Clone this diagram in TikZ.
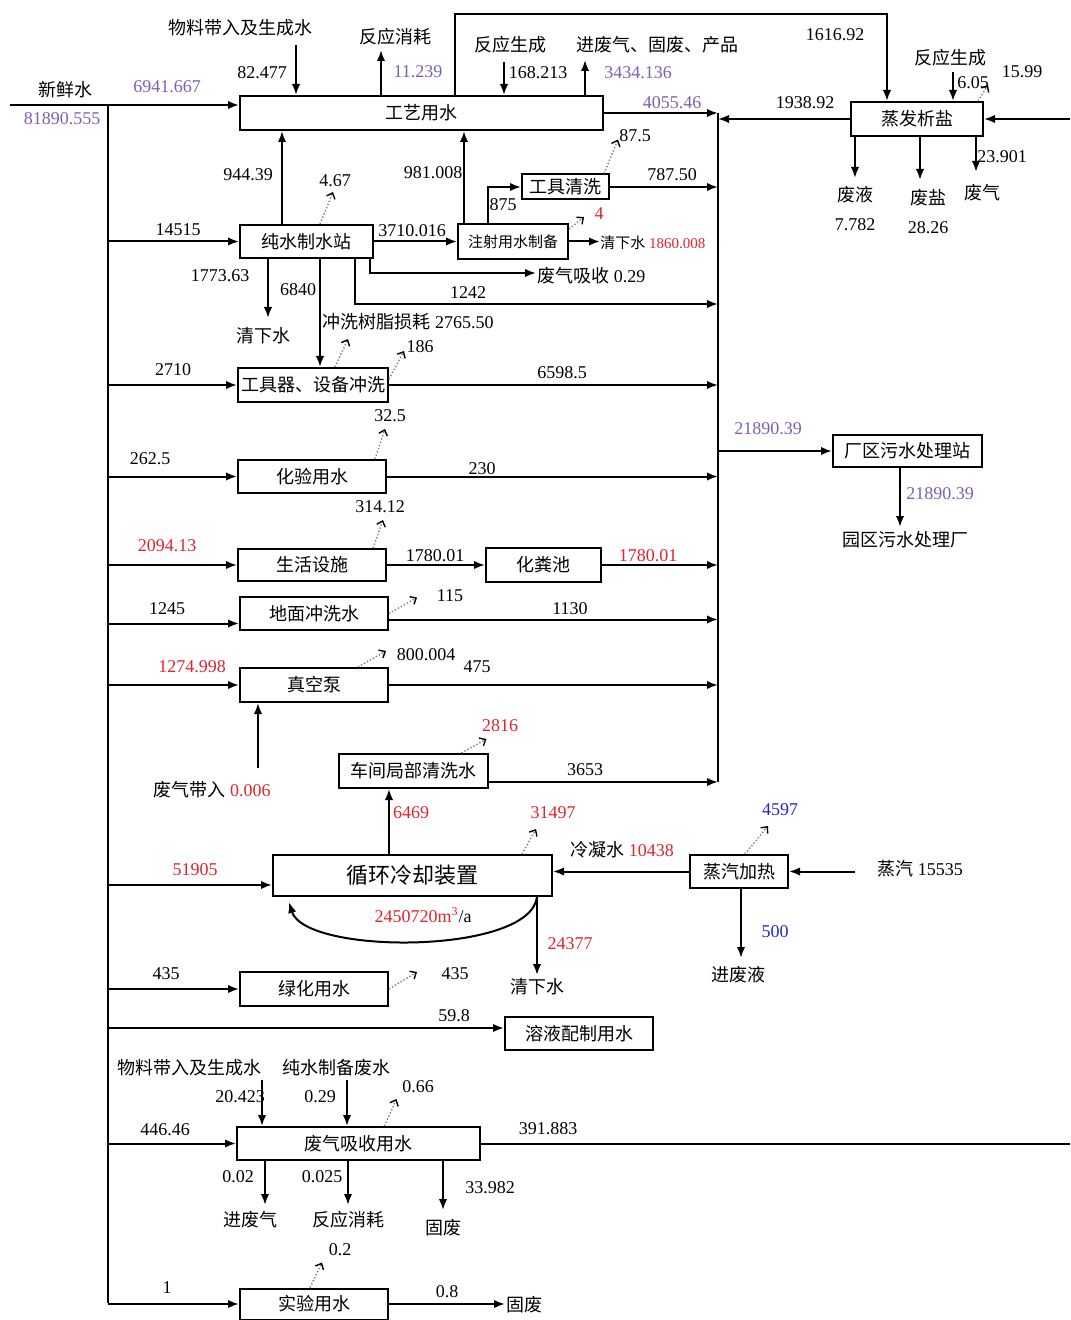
\documentclass[tikz,border=0pt]{standalone}
\usepackage{fontspec}
\setmainfont{Liberation Serif}
\newfontfamily\cjk{Noto Sans CJK SC}
\usepackage{tikz}
\usetikzlibrary{arrows.meta, calc, positioning}
\usepackage{xcolor}
\definecolor{numpurple}{RGB}{125,95,175}
\definecolor{numred}{RGB}{225,35,45}
\definecolor{numblue}{RGB}{35,35,215}
\newcommand{\zh}[1]{{\cjk #1}}

\tikzset{
    box/.style={draw, line width=1pt, inner sep=0pt, font=\cjk\fontsize{9}{10}\selectfont},
    flow/.style={line width=1pt, -{Latex[length=5.5pt, width=4.2pt]}},
    pipe/.style={line width=1pt},
    loss/.style={densely dotted, gray, line width=0.7pt, -{Straight Barb[length=2.5pt, width=4.5pt, black]}},
    lbl/.style={inner sep=0.5pt, font=\fontsize{9}{10}\selectfont},
    zhl/.style={inner sep=0.5pt, font=\cjk\fontsize{9}{10}\selectfont},
}

\begin{document}
\begin{tikzpicture}[x=0.5pt, y=-0.5pt]
    \useasboundingbox (0,0) rectangle (1070,1320);

    % 总管与汇水线
    \coordinate (src) at (10,105);
    \coordinate (main) at (108,105);
    \coordinate (mainb) at (108,1303);
    \coordinate (col) at (718,113);
    \coordinate (colb) at (718,782);
    \draw[pipe] (main) -- (mainb);
    \draw[pipe] (col) -- (colb);

    % 工艺用水
    \node[box, minimum width=181.5pt, minimum height=17pt] (gy) at (421.5,113) {工艺用水};
    \draw[flow] (src) -- (src -| gy.west);
    \node[zhl] (xxs) at (65,90) {新鲜水};
    \node[lbl, numpurple] (xxsv) at (62,119) {81890.555};
    \node[lbl, numpurple] (gyin) at (167,87) {6941.667};

    \coordinate (wl1) at (296,45);
    \draw[flow] (wl1) -- (wl1 |- gy.north);
    \node[zhl] (wl1t) at (240,28) {物料带入及生成水};
    \node[lbl] (wl1v) at (262,73) {82.477};
    \coordinate (fy1) at (381,50);
    \draw[flow] (fy1 |- gy.north) -- (fy1);
    \node[zhl] (fy1t) at (395,37) {反应消耗};
    \node[lbl, numpurple] (fy1v) at (418,72) {11.239};
    \coordinate (fs1) at (504,62);
    \draw[flow] (fs1) -- (fs1 |- gy.north);
    \node[zhl] (fs1t) at (510,45) {反应生成};
    \node[lbl] (fs1v) at (538,73) {168.213};
    \coordinate (jf1) at (585,60);
    \draw[flow] (jf1 |- gy.north) -- (jf1);
    \node[zhl] (jf1t) at (657,45) {进废气、固废、产品};
    \node[lbl, numpurple] (jf1v) at (638,73) {3434.136};

    \draw[flow] (gy.east) -- (col);
    \node[lbl, numpurple] (gyout) at (672,103) {4055.46};

    % 蒸发析盐
    \node[box, minimum width=66pt, minimum height=17pt] (zf) at (917,119) {蒸发析盐};
    \coordinate (lp1) at (455,14);
    \coordinate (lp2) at (887,14);
    \draw[flow] (lp1 |- gy.north) -- (lp1) -- (lp2) -- (lp2 |- zf.north);
    \node[lbl] (lpv) at (835,35) {1616.92};
    \draw[flow] (zf.west) -- (zf.west -| col);
    \node[lbl] (zfout) at (805,103) {1938.92};
    \coordinate (zfin) at (1070,119);
    \draw[flow] (zfin) -- (zf.east);
    \coordinate (fs2) at (953,72);
    \draw[flow] (fs2) -- (fs2 |- zf.north);
    \node[zhl] (fs2t) at (950,58) {反应生成};
    \node[lbl] (fs2v) at (973,83) {6.05};
    \draw[loss] ([xshift=-3pt]zf.north east) -- ++(10,-16);
    \node[lbl] (zfloss) at (1022,72) {15.99};
    \coordinate (fy2) at (855,178);
    \coordinate (fy3) at (920,180);
    \coordinate (fy4) at (976,172);
    \draw[flow] (fy2 |- zf.south) -- (fy2);
    \draw[flow] (fy3 |- zf.south) -- (fy3);
    \draw[flow] (fy4 |- zf.south) -- (fy4);
    \node[zhl] (fyt) at (855,195) {废液};
    \node[lbl] (fyv) at (855,225) {7.782};
    \node[zhl] (fst) at (928,198) {废盐};
    \node[lbl] (fsv) at (928,228) {28.26};
    \node[zhl] (fqt) at (982,193) {废气};
    \node[lbl] (fqv) at (1002,157) {23.901};

    % 纯水制水站
    \node[box, minimum width=66.5pt, minimum height=16.5pt] (cs) at (306.5,241.5) {纯水制水站};
    \draw[flow] (main |- cs.west) -- (cs.west);
    \node[lbl] (csin) at (178,230) {14515};
    \coordinate (c282) at (282,0);
    \draw[flow] (c282 |- cs.north) -- (c282 |- gy.south);
    \node[lbl] (csup) at (248,175) {944.39};
    \draw[loss] ([xshift=6.75pt]cs.north) -- ++(13,-32);
    \node[lbl] (csloss) at (335,181) {4.67};
    \coordinate (qx1) at (268,318);
    \draw[flow] (qx1 |- cs.south) -- (qx1);
    \node[lbl] (qx1v) at (220,276) {1773.63};
    \node[zhl] (qx1t) at (263,336) {清下水};
    \coordinate (fq1) at (536,273);
    \coordinate (c370) at (370,273);
    \draw[flow] (c370 |- cs.south) -- (c370) -- (fq1);
    \node[lbl, anchor=west] (fq1t) at (536,276) {\zh{废气吸收} 0.29};
    \coordinate (c355) at (355,304);
    \draw[flow] (c355 |- cs.south) -- (c355) -- (c355 -| col);
    \node[lbl] (c355v) at (468,293) {1242};

    % 注射用水制备
    \node[box, font=\cjk\fontsize{7.5}{8}\selectfont, minimum width=55pt, minimum height=17.5pt] (zs) at (513,241.5) {注射用水制备};
    \draw[flow] (cs.east) -- (zs.west);
    \node[lbl] (csout) at (412,231) {3710.016};
    \coordinate (c464) at (464,0);
    \draw[flow] (c464 |- zs.north) -- (c464 |- gy.south);
    \node[lbl] (zsup) at (433,173) {981.008};
    \draw[loss] ([yshift=-3pt]zs.north east) -- ++(15,-12);
    \node[lbl, numred] (zsloss) at (599,214) {4};
    \coordinate (qx2) at (600,241.5);
    \draw[flow] (zs.east) -- (qx2);
    \node[lbl, anchor=west, font=\fontsize{7.5}{8}\selectfont] (qx2t) at (599,243) {\zh{清下水} \textcolor{numred}{1860.008}};

    % 工具清洗
    \node[box, minimum width=43.5pt, minimum height=12.5pt] (gjx) at (565.5,187) {工具清洗};
    \coordinate (c488) at (488,0);
    \draw[flow] (c488 |- zs.north) |- (gjx.west);
    \node[lbl] (gjxin) at (503,205) {875};
    \draw[flow] (gjx.east) -- (gjx.east -| col);
    \node[lbl] (gjxout) at (672,175) {787.50};
    \draw[loss] ([xshift=-3pt]gjx.north east) -- ++(14,-34);
    \node[lbl] (gjxloss) at (635,136) {87.5};

    % 工具器、设备冲洗
    \node[box, minimum width=75pt, minimum height=17pt] (gjq) at (313,385) {工具器、设备冲洗};
    \draw[flow] (main |- gjq.west) -- (gjq.west);
    \node[lbl] (gjqin) at (173,370) {2710};
    \coordinate (c320) at (320,0);
    \draw[flow] (c320 |- cs.south) -- (c320 |- gjq.north);
    \node[lbl] (c320v) at (298,290) {6840};
    \draw[flow] (gjq.east) -- (gjq.east -| col);
    \node[lbl] (gjqout) at (562,373) {6598.5};
    \draw[loss] ([xshift=11pt]gjq.north) -- ++(13,-28);
    \node[lbl] (gjql1) at (408,322) {\zh{冲洗树脂损耗} 2765.50};
    \draw[loss] ([yshift=-6pt]gjq.north east) -- ++(15,-28);
    \node[lbl] (gjql2) at (420,347) {186};

    % 化验用水
    \node[box, minimum width=74pt, minimum height=16.5pt] (hy) at (312,476.5) {化验用水};
    \draw[flow] (main |- hy.west) -- (hy.west);
    \node[lbl] (hyin) at (150,459) {262.5};
    \draw[flow] (hy.east) -- (hy.east -| col);
    \node[lbl] (hyout) at (482,469) {230};
    \draw[loss] ([xshift=-6pt]hy.north east) -- ++(10,-30);
    \node[lbl] (hyloss) at (390,416) {32.5};

    % 生活设施、化粪池
    \node[box, minimum width=74pt, minimum height=16pt] (sh) at (312,565) {生活设施};
    \draw[flow] (main |- sh.west) -- (sh.west);
    \node[lbl, numred] (shin) at (167,546) {2094.13};
    \draw[loss] ([xshift=-7pt]sh.north east) -- ++(10,-28);
    \node[lbl] (shloss) at (380,507) {314.12};
    \node[box, minimum width=57.5pt, minimum height=17pt] (hf) at (543.5,565) {化粪池};
    \draw[flow] (sh.east) -- (hf.west);
    \node[lbl] (shout) at (435,556) {1780.01};
    \draw[flow] (hf.east) -- (hf.east -| col);
    \node[lbl, numred] (hfout) at (648,556) {1780.01};

    % 地面冲洗水
    \node[box, minimum width=74pt, minimum height=16.5pt] (dm) at (314,613.5) {地面冲洗水};
    \coordinate (dmin) at ([yshift=-5pt]dm.west);
    \coordinate (dmout) at ([yshift=-3pt]dm.east);
    \draw[flow] (main |- dmin) -- (dmin);
    \node[lbl] (dminv) at (167,609) {1245};
    \draw[flow] (dmout) -- (dmout -| col);
    \node[lbl] (dmoutv) at (570,609) {1130};
    \draw[loss] (dm.east) -- ++(28,-16);
    \node[lbl] (dmloss) at (450,596) {115};

    % 真空泵
    \node[box, minimum width=74pt, minimum height=17pt] (zk) at (314,685) {真空泵};
    \draw[flow] (main |- zk.west) -- (zk.west);
    \node[lbl, numred] (zkin) at (192,667) {1274.998};
    \draw[flow] (zk.east) -- (zk.east -| col);
    \node[lbl] (zkout) at (477,667) {475};
    \draw[loss] ([xshift=-15.5pt]zk.north east) -- ++(28,-16);
    \node[lbl] (zkloss) at (426,655) {800.004};
    \coordinate (fqdr) at (258,768);
    \draw[flow] (fqdr) -- (fqdr |- zk.south);
    \node[lbl] (fqdrt) at (212,790) {\zh{废气带入} \textcolor{numred}{0.006}};

    % 车间局部清洗水
    \node[box, minimum width=74.5pt, minimum height=17pt] (cj) at (413.5,771) {车间局部清洗水};
    \coordinate (cjout) at ([yshift=-5.5pt]cj.east);
    \draw[flow] (cjout) -- (colb);
    \node[lbl] (cjoutv) at (585,770) {3653};
    \draw[loss] ([xshift=24pt]cj.north) -- ++(25,-14);
    \node[lbl, numred] (cjloss) at (500,726) {2816};

    % 循环冷却装置
    \node[box, font=\cjk\fontsize{11}{12}\selectfont, minimum width=139.5pt, minimum height=20.5pt] (xh) at (412.5,875.5) {循环冷却装置};
    \coordinate (xhin) at ([yshift=-4.75pt]xh.west);
    \draw[flow] (main |- xhin) -- (xhin);
    \node[lbl, numred] (xhinv) at (195,870) {51905};
    \coordinate (c389) at (389,0);
    \draw[flow] (c389 |- xh.north) -- (c389 |- cj.south);
    \node[lbl, numred] (c389v) at (411,813) {6469};
    \draw[loss] ([xshift=-15.5pt]xh.north east) -- ++(14,-25);
    \node[lbl, numred] (xhloss) at (553,813) {31497};
    \coordinate (qx3) at (537,975);
    \draw[flow] (qx3 |- xh.south) .. controls (530,955) and (305,955) .. ([xshift=8.5pt, yshift=-2.5pt]xh.south west);
    \node[lbl, numred] (xhcyc) at (423,915) {2450720m\textsuperscript{3}\textcolor{black}{/a}};
    \draw[flow] (qx3 |- xh.south) -- (qx3);
    \node[lbl, numred] (qx3v) at (570,944) {24377};
    \node[zhl] (qx3t) at (537,987) {清下水};

    % 蒸汽加热
    \node[box, minimum width=49pt, minimum height=16.5pt] (zq) at (739,871.5) {蒸汽加热};
    \draw[flow] (zq.west) -- (zq.west -| xh.east);
    \node[lbl] (zqout) at (622,850) {\zh{冷凝水} \textcolor{numred}{10438}};
    \coordinate (zqin) at (855,871.5);
    \draw[flow] (zqin) -- (zq.east);
    \node[lbl] (zqint) at (920,869) {\zh{蒸汽} 15535};
    \coordinate (c741) at (741,958);
    \draw[flow] (c741 |- zq.south) -- (c741);
    \node[lbl, numblue] (c741v) at (775,932) {500};
    \node[zhl] (c741t) at (738,975) {进废液};
    \draw[loss] ([xshift=3pt]zq.north) -- ++(23,-28);
    \node[lbl, numblue] (zqloss) at (780,810) {4597};

    % 绿化用水
    \node[box, minimum width=74pt, minimum height=17pt] (lh) at (314,989) {绿化用水};
    \draw[flow] (main |- lh.west) -- (lh.west);
    \node[lbl] (lhin) at (166,974) {435};
    \draw[loss] (lh.east) -- ++(28,-17);
    \node[lbl] (lhloss) at (455,974) {435};

    % 溶液配制用水
    \node[box, minimum width=74pt, minimum height=16.5pt] (ry) at (579,1033.5) {溶液配制用水};
    \coordinate (ryin) at ([yshift=2.75pt]ry.west);
    \draw[flow] (main |- ryin) -- (ryin);
    \node[lbl] (ryinv) at (454,1016) {59.8};

    % 废气吸收用水
    \node[box, minimum width=121.5pt, minimum height=16.5pt] (fx) at (358.5,1143.5) {废气吸收用水};
    \draw[flow] (main |- fx.west) -- (fx.west);
    \node[lbl] (fxin) at (165,1130) {446.46};
    \coordinate (fxout) at (1070,1143.5);
    \draw[pipe] (fx.east) -- (fxout);
    \node[lbl] (fxoutv) at (548,1129) {391.883};
    \coordinate (wl2) at (262,1080);
    \draw[flow] (wl2) -- (wl2 |- fx.north);
    \node[zhl] (wl2t) at (189,1068) {物料带入及生成水};
    \node[lbl] (wl2v) at (240,1097) {20.423};
    \coordinate (cs2) at (347,1080);
    \draw[flow] (cs2) -- (cs2 |- fx.north);
    \node[zhl] (cs2t) at (336,1068) {纯水制备废水};
    \node[lbl] (cs2v) at (320,1097) {0.29};
    \draw[loss] ([xshift=13pt]fx.north) -- ++(12,-27);
    \node[lbl] (fxloss) at (418,1087) {0.66};
    \coordinate (d1) at (265,1205);
    \coordinate (d2) at (348,1205);
    \coordinate (d3) at (443,1210);
    \draw[flow] (d1 |- fx.south) -- (d1);
    \draw[flow] (d2 |- fx.south) -- (d2);
    \draw[flow] (d3 |- fx.south) -- (d3);
    \node[lbl] (d1v) at (238,1177) {0.02};
    \node[zhl] (d1t) at (250,1220) {进废气};
    \node[lbl] (d2v) at (322,1177) {0.025};
    \node[zhl] (d2t) at (348,1220) {反应消耗};
    \node[lbl] (d3v) at (490,1188) {33.982};
    \node[zhl] (d3t) at (443,1228) {固废};

    % 实验用水
    \node[box, minimum width=74pt, minimum height=15.5pt] (sy) at (314,1304) {实验用水};
    \draw[flow] (main |- sy.west) -- (sy.west);
    \node[lbl] (syin) at (167,1288) {1};
    \draw[loss] ([xshift=-2pt]sy.north) -- ++(12,-25);
    \node[lbl] (syloss) at (340,1250) {0.2};
    \coordinate (gf) at (505,1304);
    \draw[flow] (sy.east) -- (gf);
    \node[lbl] (syout) at (447,1292) {0.8};
    \node[zhl, anchor=west] (gft) at (505,1305) {固废};

    % 厂区污水处理站
    \node[box, minimum width=74.5pt, minimum height=16pt] (cq) at (907.5,451) {厂区污水处理站};
    \coordinate (c450) at (718,451);
    \draw[flow] (c450) -- (cq.west);
    \node[lbl, numpurple] (cqin) at (768,429) {21890.39};
    \coordinate (yq) at (900,527);
    \draw[flow] (yq |- cq.south) -- (yq);
    \node[lbl, numpurple] (yqv) at (940,494) {21890.39};
    \node[zhl] (yqt) at (905,540) {园区污水处理厂};
\end{tikzpicture}
\end{document}
